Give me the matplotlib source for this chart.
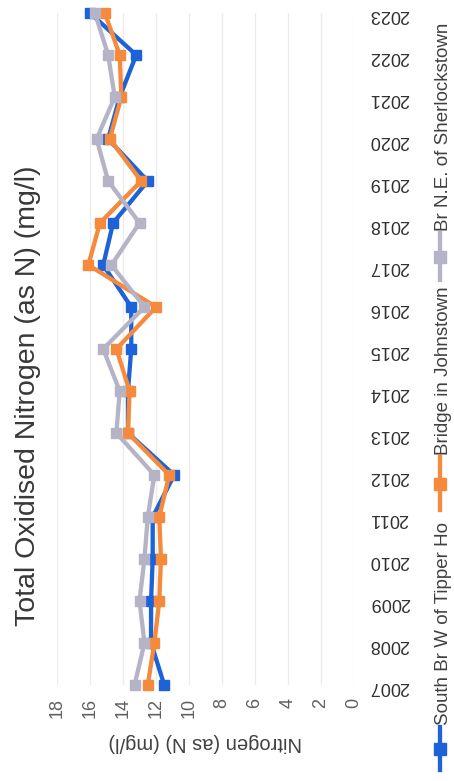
import matplotlib
matplotlib.use("Agg")
import matplotlib.pyplot as plt
from matplotlib.lines import Line2D

plt.rcParams['font.family'] = ['Liberation Sans', 'DejaVu Sans']

years = list(range(2007, 2024))
year_labels = [str(y) for y in years]

south_br = [11.5, 12.3, 12.3, 12.2, 12.2, 10.9, 13.7, 13.7, 13.5, 13.5, 15.2, 14.6, 12.5, 14.9, 14.2, 13.2, 16.0]
bridge_johnstown = [12.5, 12.1, 11.8, 11.7, 11.8, 11.2, 13.7, 13.6, 14.4, 12.0, 16.1, 15.4, 12.9, 14.8, 14.1, 14.2, 15.1]
br_sherlockstown = [13.3, 12.7, 13.0, 12.7, 12.5, 12.1, 14.4, 14.2, 15.2, 12.7, 14.7, 13.0, 14.9, 15.6, 14.5, 14.9, 15.7]

series_names = ['South Br W of Tipper Ho', 'Bridge in Johnstown', 'Br N.E. of Sherlockstown']
series_colors = ['#1d62d8', '#f58a3c', '#b5b3c6']
value_ticks = list(range(0, 20, 2))

W, H = 454, 781
fig = plt.figure(figsize=(W / 100, H / 100), dpi=100)

# chart is laid on its side: values run right-to-left, years bottom-to-top
ax = fig.add_axes([57 / W, (H - 685) / H, (354 - 57) / W, (685 - 13) / H])
for vals, col in zip([south_br, bridge_johnstown, br_sherlockstown], series_colors):
    ax.plot(vals, years, color=col, lw=3.1, marker='s', ms=7.5, clip_on=False,
            solid_joinstyle='miter')

ax.set_xlim(18, 0)
ax.set_ylim(2007, 2023)
ax.set_xticks(value_ticks)
ax.set_xticklabels([str(v) for v in value_ticks], rotation=90, color='#606060', fontsize=13)
ax.set_yticks(years)
ax.yaxis.tick_right()
ax.set_yticklabels(year_labels, rotation=180, color='#303030', fontsize=13)
ax.tick_params(axis='x', length=0, pad=9)
ax.tick_params(axis='y', length=0, pad=11)
ax.grid(axis='x', color='#ececec', lw=1)
for s in ax.spines.values():
    s.set_visible(False)

ax.set_xlabel('Nitrogen (as N) (mg/l)', rotation=180, fontsize=14.5, color='#404040', va='center')
ax.xaxis.set_label_coords(0.5, -0.086)

fig.text(28 / W, 1 - 396 / H, 'Total Oxidised Nitrogen (as N) (mg/l)', rotation=90,
         ha='center', va='center', fontsize=20.5, color='#383838')

# legend, stacked along the right edge
leg_spans = [(727, 770), (457, 510), (233, 280)]
for name, col, (top, bot) in zip(series_names, series_colors, leg_spans):
    y0, y1 = 1 - bot / H, 1 - top / H
    fig.add_artist(Line2D([440 / W] * 3, [y0, (y0 + y1) / 2, y1], color=col, lw=3.1,
                          marker='s', ms=8, markevery=[1], transform=fig.transFigure))
    fig.text(444 / W, y1 + 2 / H, name, rotation=90, ha='center', va='bottom',
             fontsize=13.5, color='#404040')

fig.savefig('out.png', dpi=100, facecolor='white')
